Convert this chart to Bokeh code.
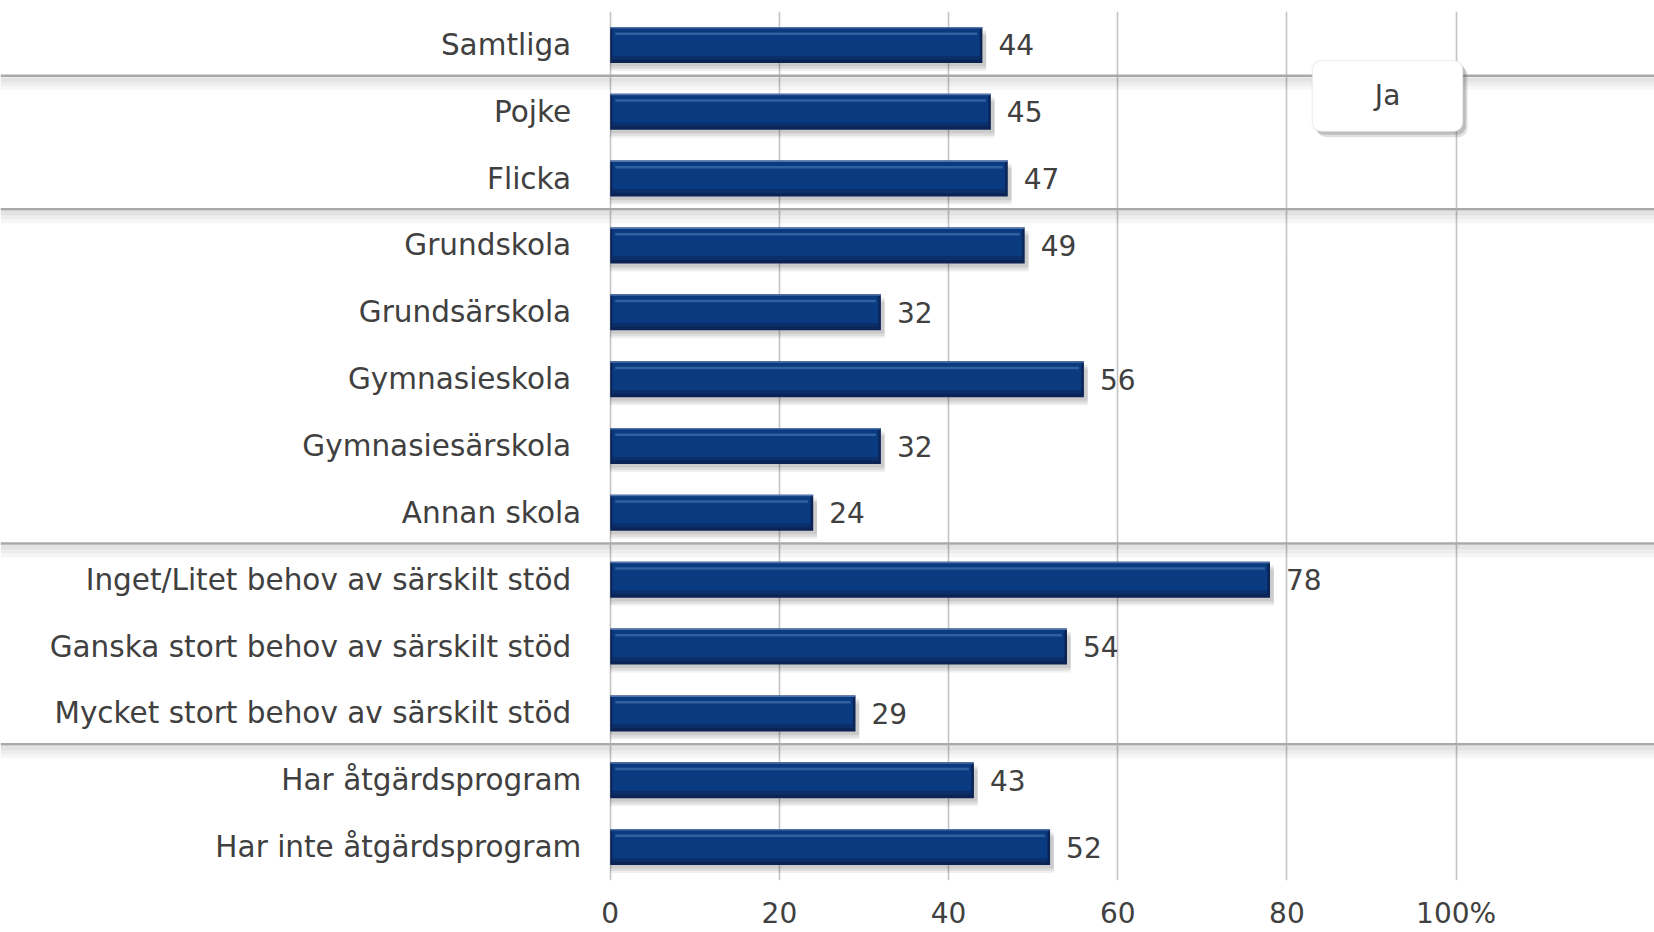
from bokeh.plotting import figure
from bokeh.models import (FactorRange, Range1d, FixedTicker, Span, BoxAnnotation,
                          Label, ColumnDataSource)
from bokeh.embed import file_html
from bokeh.resources import INLINE
from bokeh.core.properties import value

# ---------------- data ----------------
categories = [
    "Samtliga",
    "Pojke",
    "Flicka",
    "Grundskola",
    "Grundsärskola",
    "Gymnasieskola",
    "Gymnasiesärskola",
    "Annan skola",
    "Inget/Litet behov av särskilt stöd",
    "Ganska stort behov av särskilt stöd",
    "Mycket stort behov av särskilt stöd",
    "Har åtgärdsprogram",
    "Har inte åtgärdsprogram",
]
values = [44, 45, 47, 49, 32, 56, 32, 24, 78, 54, 29, 43, 52]
group_sizes = [1, 2, 5, 3, 2]          # groups separated by horizontal rules
x_ticks = [0, 20, 40, 60, 80, 100]
tick_labels = {100: "100%"}
series_name = "Ja"

# ---------------- layout constants ----------------
W, H = 1654, 932
X0_PX = 609.7                 # screen x of value 0 inside the figure
PX_PER_UNIT = 8.459
BAND = 66.85                  # px per category band
FONT = "DejaVu Sans"
TXT = "#404040"

x_start = -X0_PX / PX_PER_UNIT
x_end = (W - X0_PX) / PX_PER_UNIT

p = figure(width=W, height=H, output_backend="svg", toolbar_location=None,
           y_range=FactorRange(factors=categories[::-1]),
           x_range=Range1d(x_start, x_end),
           y_axis_location=None,
           min_border_left=0, min_border_right=0, min_border_top=11,
           min_border_bottom=52)
p.outline_line_color = None
p.background_fill_color = "white"
p.border_fill_color = "white"

# axis
p.xaxis.ticker = FixedTicker(ticks=x_ticks)
p.xaxis.major_label_overrides = tick_labels
p.xaxis.axis_line_color = None
p.xaxis.major_tick_line_color = None
p.xaxis.minor_tick_line_color = None
p.xaxis.major_label_standoff = 10
p.xaxis.major_label_text_font = FONT
p.xaxis.major_label_text_font_size = "28px"
p.xaxis.major_label_text_color = TXT
p.xgrid.grid_line_color = "#c4c4c4"
p.xgrid.grid_line_width = 1.6
p.ygrid.visible = False


def off(dy_px):
    return [(c, dy_px / BAND) for c in categories]


bar_h = 36.0


def band_rows(top_px, bot_px):
    # offsets relative to bar centre; screen px measured from the bar top
    centre = bar_h / 2 - (top_px + bot_px) / 2
    return off(centre), (bot_px - top_px) / BAND


# drop shadow
for dy, a in [(-8, 0.06), (-6, 0.08), (-3.5, 0.08)]:
    p.hbar(y=off(dy), height=bar_h / BAND, left=0,
           right=[v + 0.45 for v in values], fill_color="black",
           fill_alpha=a, line_color=None)

# base (dark edge)
y, h = band_rows(0, bar_h)
p.hbar(y=y, height=h, left=0, right=values, fill_color="#0b2455",
       line_color=None)
# main body
y, h = band_rows(1.5, 29)
p.hbar(y=y, height=h, left=0.25, right=[v - 0.3 for v in values],
       fill_color="#0a3a80", line_color=None)
# lower gradient
y, h = band_rows(29, 32.5)
p.hbar(y=y, height=h, left=0.25, right=[v - 0.3 for v in values],
       fill_color="#0a2f6b", line_color=None)
# top edge light
y, h = band_rows(0, 1.5)
p.hbar(y=y, height=h, left=0, right=values, fill_color="#4f73ad",
       line_color=None)
# highlight stripe
y, h = band_rows(5.5, 8)
p.hbar(y=y, height=h, left=0.6, right=[v - 0.6 for v in values],
       fill_color="#31609f", line_color=None)

# value labels
p.text(x=values, y=categories, text=[str(v) for v in values],
       x_offset=16, text_align="left", text_baseline="middle",
       text_font=value(FONT), text_font_size="28px", text_color=TXT)

# category labels (right aligned left of the value axis origin)
short_pad = {"Annan skola", "Har åtgärdsprogram", "Har inte åtgärdsprogram"}
src_lab = ColumnDataSource(dict(
    y=categories, text=categories,
    xo=[-29 if c in short_pad else -39 for c in categories],
))
p.text(x=0, y="y", text="text", x_offset="xo", source=src_lab,
       text_align="right", text_baseline="middle",
       text_font=value(FONT), text_font_size="29.5px", text_color=TXT)

# group separator rules with soft shadow
n = len(categories)
acc = 0
for gs in group_sizes[:-1]:
    acc += gs
    loc = n - acc + 0.04        # synthetic coordinate of the boundary
    for (t, b, a) in [(1.5, 14, 0.035), (1.5, 10, 0.035), (1.5, 6, 0.04)]:
        p.add_layout(BoxAnnotation(top=loc - t / BAND, bottom=loc - b / BAND,
                                   fill_color="black", fill_alpha=a,
                                   line_color=None, level="underlay"))
    p.add_layout(Span(location=loc, dimension="width", line_color="#a9a9a9",
                      line_width=2.5, level="underlay"))

# legend box
lx0, lx1 = 83.0, 100.8
ly0, ly1 = 11.205, 12.267
for dx, dy, a in [(0.55, -0.085, 0.18), (0.35, -0.05, 0.25)]:
    p.add_layout(BoxAnnotation(left=lx0 + dx, right=lx1 + dx, bottom=ly0 + dy,
                               top=ly1 + dy, fill_color="#555555", fill_alpha=a,
                               line_color=None, border_radius=9))
p.add_layout(BoxAnnotation(left=lx0, right=lx1, bottom=ly0, top=ly1,
                           fill_color="white", fill_alpha=1.0,
                           line_color="#d2d2d2", line_width=1.5,
                           border_radius=9))
p.add_layout(Label(x=(lx0 + lx1) / 2, y=(ly0 + ly1) / 2, text=series_name,
                   text_align="center", text_baseline="middle",
                   text_font=FONT, text_font_size="28px", text_color=TXT))

open("out.html", "w").write(file_html(p, INLINE))
